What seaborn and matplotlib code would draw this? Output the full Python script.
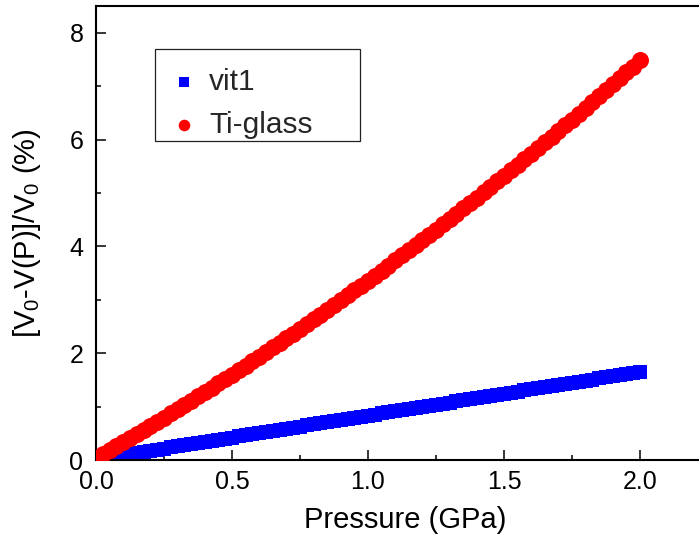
import matplotlib
matplotlib.use("Agg")
import matplotlib.pyplot as plt
from matplotlib.patches import Rectangle
from matplotlib.ticker import MultipleLocator
import numpy as np
import pandas as pd
import seaborn as sns

# ---- data ----
ti_pressure = [0.000, 0.025, 0.050, 0.075, 0.100, 0.125, 0.150, 0.175, 0.200, 0.225,
               0.250, 0.275, 0.300, 0.325, 0.350, 0.375, 0.400, 0.425, 0.450, 0.475,
               0.500, 0.525, 0.550, 0.575, 0.600, 0.625, 0.650, 0.675, 0.700, 0.725,
               0.750, 0.775, 0.800, 0.825, 0.850, 0.875, 0.900, 0.925, 0.950, 0.975,
               1.000, 1.025, 1.050, 1.075, 1.100, 1.125, 1.150, 1.175, 1.200, 1.225,
               1.250, 1.275, 1.300, 1.325, 1.350, 1.375, 1.400, 1.425, 1.450, 1.475,
               1.500, 1.525, 1.550, 1.575, 1.600, 1.625, 1.650, 1.675, 1.700, 1.725,
               1.750, 1.775, 1.800, 1.825, 1.850, 1.875, 1.900, 1.925, 1.950, 1.975,
               2.000]
ti_glass = [0.040, 0.113, 0.187, 0.261, 0.336, 0.411, 0.487, 0.563, 0.640, 0.717,
            0.795, 0.873, 0.952, 1.031, 1.111, 1.191, 1.272, 1.353, 1.435, 1.517,
            1.600, 1.683, 1.767, 1.851, 1.936, 2.021, 2.107, 2.193, 2.280, 2.367,
            2.455, 2.543, 2.632, 2.721, 2.811, 2.901, 2.992, 3.083, 3.175, 3.267,
            3.360, 3.453, 3.547, 3.641, 3.736, 3.831, 3.927, 4.023, 4.120, 4.217,
            4.315, 4.413, 4.512, 4.611, 4.711, 4.811, 4.912, 5.013, 5.115, 5.217,
            5.320, 5.423, 5.527, 5.631, 5.736, 5.841, 5.947, 6.053, 6.160, 6.267,
            6.375, 6.483, 6.592, 6.701, 6.811, 6.921, 7.032, 7.143, 7.255, 7.367,
            7.480]

vit_pressure = [0.050, 0.075, 0.100, 0.125, 0.150, 0.175, 0.200, 0.225,
                0.250, 0.275, 0.300, 0.325, 0.350, 0.375, 0.400, 0.425, 0.450, 0.475,
                0.500, 0.525, 0.550, 0.575, 0.600, 0.625, 0.650, 0.675, 0.700, 0.725,
                0.750, 0.775, 0.800, 0.825, 0.850, 0.875, 0.900, 0.925, 0.950, 0.975,
                1.000, 1.025, 1.050, 1.075, 1.100, 1.125, 1.150, 1.175, 1.200, 1.225,
                1.250, 1.275, 1.300, 1.325, 1.350, 1.375, 1.400, 1.425, 1.450, 1.475,
                1.500, 1.525, 1.550, 1.575, 1.600, 1.625, 1.650, 1.675, 1.700, 1.725,
                1.750, 1.775, 1.800, 1.825, 1.850, 1.875, 1.900, 1.925, 1.950, 1.975,
                2.000]
vit1 = [0.051, 0.072, 0.092, 0.113, 0.133, 0.154, 0.174, 0.195,
        0.215, 0.236, 0.256, 0.277, 0.297, 0.318, 0.338, 0.359, 0.379, 0.400,
        0.420, 0.441, 0.461, 0.482, 0.502, 0.523, 0.543, 0.564, 0.584, 0.605,
        0.625, 0.646, 0.666, 0.687, 0.707, 0.728, 0.748, 0.769, 0.789, 0.810,
        0.830, 0.851, 0.871, 0.892, 0.912, 0.933, 0.953, 0.974, 0.994, 1.015,
        1.035, 1.056, 1.076, 1.097, 1.117, 1.138, 1.158, 1.179, 1.199, 1.220,
        1.240, 1.261, 1.281, 1.302, 1.322, 1.343, 1.363, 1.384, 1.404, 1.425,
        1.445, 1.466, 1.486, 1.507, 1.527, 1.548, 1.568, 1.589, 1.609, 1.630,
        1.650]

series_names = ["vit1", "Ti-glass"]
x_ticks = [0.0, 0.5, 1.0, 1.5, 2.0]
y_ticks = [0, 2, 4, 6, 8]

# ---- style ----
sns.set_style("ticks")
plt.rcParams["font.family"] = ["Liberation Sans", "DejaVu Sans"]
plt.rcParams["mathtext.fontset"] = "custom"
plt.rcParams["mathtext.rm"] = "Liberation Sans"
plt.rcParams["mathtext.it"] = "Liberation Sans:italic"
plt.rcParams["mathtext.bf"] = "Liberation Sans:bold"

W, H = 699, 543
fig = plt.figure(figsize=(W / 100, H / 100), dpi=100)
x0_px, y0_px, top_px = 96, 460, 6
xmax = 2.25
width_px = 612
ax = fig.add_axes([x0_px / W, (H - y0_px) / H, width_px / W, (y0_px - top_px) / H])

df_vit = pd.DataFrame({"P": vit_pressure, "dV": vit1})
df_ti = pd.DataFrame({"P": ti_pressure, "dV": ti_glass})

sns.scatterplot(data=df_vit, x="P", y="dV", ax=ax, marker="s", color="#0000FF",
                s=105, linewidth=0, label=series_names[0], zorder=2)
sns.scatterplot(data=df_ti, x="P", y="dV", ax=ax, marker="o", color="#FF0000",
                s=150, linewidth=0, label=series_names[1], zorder=3)

ax.set_xlim(0, xmax)
ax.set_ylim(0, 8.5)
ax.set_xticks(x_ticks)
ax.set_xticklabels([f"{v:.1f}" for v in x_ticks])
ax.set_yticks(y_ticks)
ax.set_yticklabels([str(v) for v in y_ticks])
ax.xaxis.set_minor_locator(MultipleLocator(0.25))
ax.yaxis.set_minor_locator(MultipleLocator(1))

ax.tick_params(axis="both", which="major", direction="in", length=7, width=1.1,
               labelsize=18, pad=7, color="black", labelcolor="black")
ax.tick_params(axis="both", which="minor", direction="in", length=3.8, width=1.1,
               color="black")
ax.tick_params(axis="y", which="major", pad=9)

for side in ["left", "bottom", "top", "right"]:
    ax.spines[side].set_linewidth(1.5)
    ax.spines[side].set_color("black")

ax.set_xlabel("Pressure (GPa)", fontsize=21, color="black")
ax.set_ylabel("[V$_0$-V(P)]/V$_0$ (%)", fontsize=21, color="black")
ax.xaxis.set_label_coords(0.505, -0.102)
ax.yaxis.set_label_coords(-0.087, 0.5)

# legend
leg = ax.legend(loc="upper left", bbox_to_anchor=(145 / W, 1 - 44 / H),
                bbox_transform=fig.transFigure, frameon=False, fontsize=21.5,
                markerscale=0.68, handlelength=1.0, handletextpad=0.35,
                labelspacing=0.5, borderpad=0.3)
fig.patches.append(Rectangle((155 / W, 1 - 141 / H), (360 - 155) / W, (141 - 49) / H,
                             transform=fig.transFigure, fill=False,
                             edgecolor="#222222", linewidth=0.9, zorder=5))

fig.savefig("out.png", dpi=100)
